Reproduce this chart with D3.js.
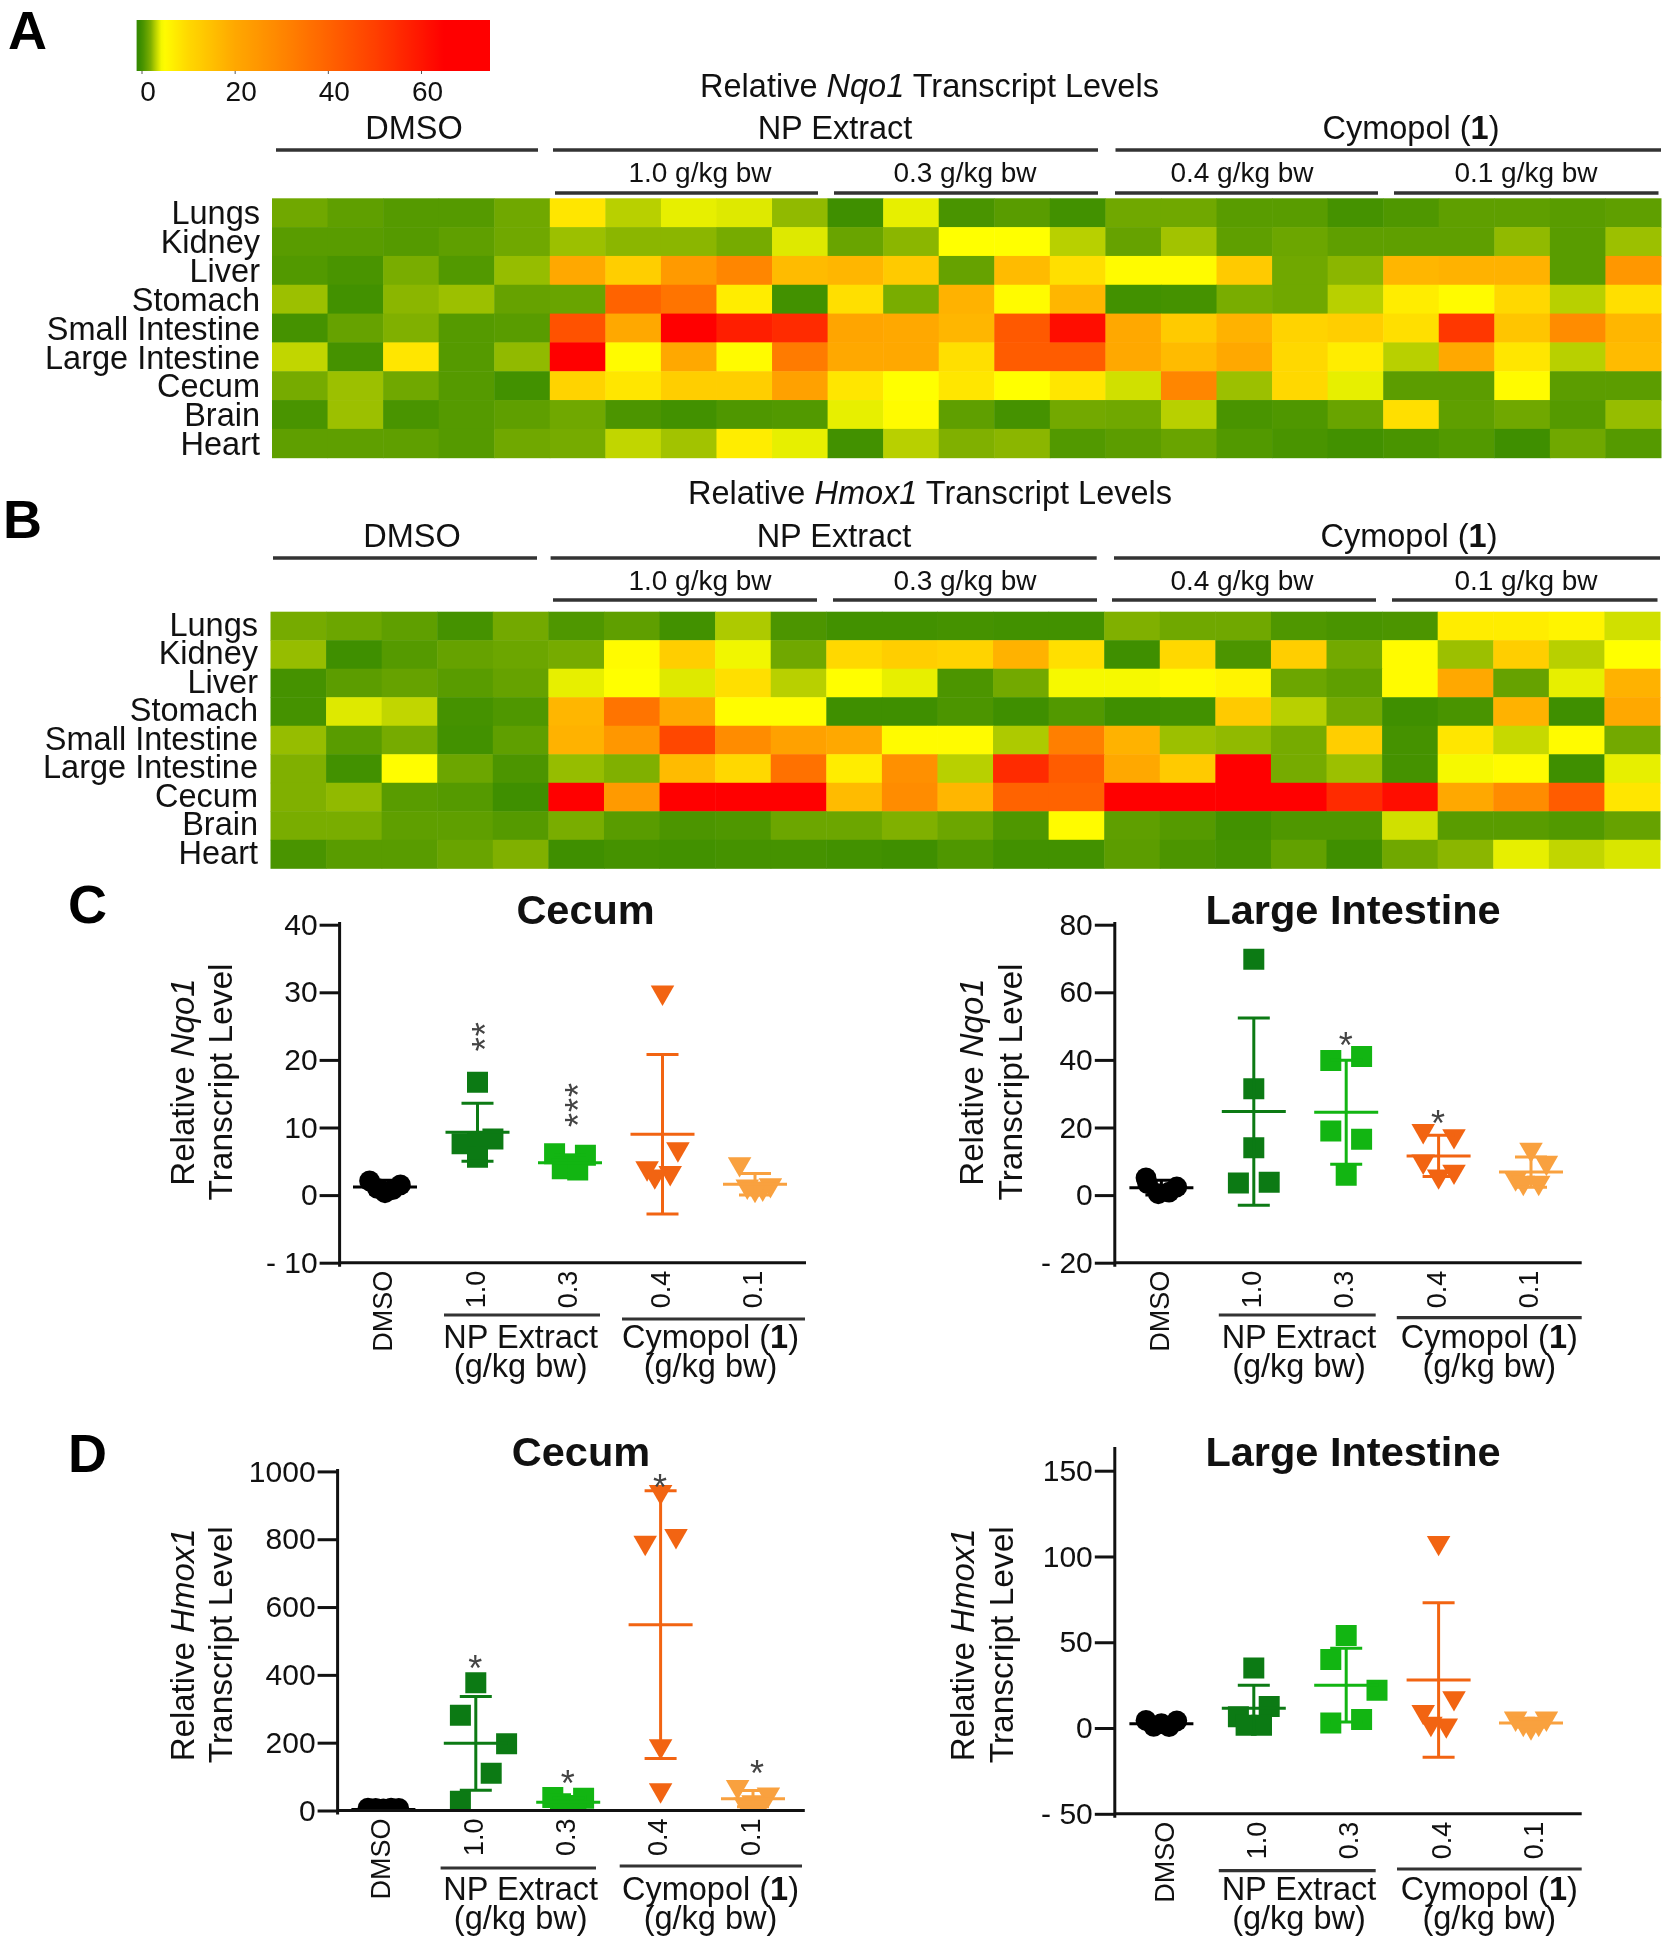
<!DOCTYPE html>
<html>
<head>
<meta charset="utf-8">
<script src="https://cdn.jsdelivr.net/npm/d3@7"></script>
<style>
  html, body { margin: 0; padding: 0; background: #fff; }
  text { font-family: "Liberation Sans", Arial, sans-serif; fill: #111; }
  svg { filter: blur(0.5px); }
</style>
</head>
<body>
<div id="chart"></div>
<script>
// heatmap data, one row per organ
const organs = ["Lungs", "Kidney", "Liver", "Stomach", "Small Intestine", "Large Intestine", "Cecum", "Brain", "Heart"]
const doseLabels = ["1.0 g/kg bw", "0.3 g/kg bw", "0.4 g/kg bw", "0.1 g/kg bw"]
const heatNqo1 = [
  [1.5,1,.7,.7,1.5, 8,3,4,3.8,2.3, 0,4,.3,.8,.1, 1.5,1.5,.8,.8,.2, .5,1,1,.8,1],
  [.8,.8,.7,1,1.5, 2.5,2.2,2.2,1.7,3.8, 1.3,2.2,4.5,4.5,3, 1.2,2.6,1,1.4,1, 1,1,2.3,.8,2.5],
  [.6,.3,1.8,.6,2.4, 20,12,24,30,16, 17,13,1.2,16,9, 5,5,13,1.5,2.2, 17,18,18,.8,25],
  [2.5,.1,2.2,2.5,1.2, 1.3,40,35,7,.1, 9,1.8,18,5,17, .1,.2,1.8,1.5,3, 7,5,10,3,9],
  [.2,1.2,2,.7,.8, 45,20,68,58,55, 21,20,17,43,62, 20,13,18,11,12, 9,52,14,28,17],
  [3.2,.2,8,.7,2.3, 70,5,20,5,33, 20,20,9,42,42, 20,16,20,10,7, 3,20,8,3,16],
  [1.7,2.5,1.5,.7,.1, 11,8,12,12,22, 8,4.5,8,4.5,8, 3.5,30,2.5,10,4, .9,.9,5,.9,.9],
  [.3,2.5,.3,.7,1, 1.5,.4,.1,.5,.6, 4,5,1,.2,1.6, 1.5,3,.3,.5,1.3, 9,1,1.5,.7,2.4],
  [1,1,1,.7,1.5, 1.7,3.2,2.6,7,4, .1,3,2,2.2,.6, .9,1.3,.6,.3,.1, .3,.6,0,1.5,.7]
]
const heatHmox1 = [
  [1.7,1.4,1,.2,1.6, .5,1,.1,2.8,.4, .1,.1,.2,.1,.1, 2,1.5,1.5,.5,.3, .4,7,7,6,3.5],
  [2.4,0,.7,1.2,1.4, 1.7,5,12,4.2,1.5, 10,12,11,18,9, 0,10,.4,12,1.6, 5,2.5,12,3,4.5],
  [.2,.9,1.2,.8,1.2, 4,4.5,3.8,9,3, 4.7,4,.4,1.6,4.3, 4.3,5,6,1.4,1, 5,20,1.2,4,18],
  [.2,3.8,3.2,.2,.5, 17,35,20,4.8,4.8, 0,0,.4,0,.6, 0,.1,13,3,1.6, 0,.3,18,0,20],
  [2.4,.8,1.7,.1,1, 18,25,48,28,22, 20,5,5,2.8,32, 18,2.5,2.3,1.7,12, .2,8,3.3,5,1.6],
  [2,.1,4.8,1.4,.4, 2.4,2,16,10,36, 7,27,3,55,42, 20,13,68,1.7,2.5, .2,4.3,5,0,4],
  [2,2.3,.8,.7,0, 68,24,68,68,68, 16,28,17,40,40, 65,65,66,65,55, 62,20,28,42,8],
  [1.8,1.8,1,1,.7, 1.8,.8,.4,.5,1.4, 1.4,2,1.4,.5,5, 1,.7,.1,.5,.5, 3.5,.8,.8,.6,1.2],
  [.3,.8,.8,1.3,2, 0,.2,.1,.2,.2, .1,0,.5,.1,.1, .9,.4,.2,1.1,0, 1.5,2.2,4,3.2,3.7]
]
const heatStops = [-1, 0, 1, 2, 3, 4.5, 10, 20, 38, 50, 65]
const heatColors = ["#338700", "#3f8f00", "#5f9f00", "#80b000", "#b8d000", "#ffff00", "#ffd800", "#ffa800", "#ff6a00", "#ff4000", "#ff0000"]
const legendTicks = [0, 20, 40, 60]

// scatter data: values per group, swarm slot of each point, mean and sd bars
const groupLabels = ["DMSO", "1.0", "0.3", "0.4", "0.1"]
const groupColors = ["#000000", "#0c7a14", "#12b512", "#f26412", "#f9a13f"]

const nqo1CecumValues = [[2.1,1.5,1,.8,.35], [16.7,8.3,7.6,7.9,5.6], [6.1,5.9,4.6,3.9,3.7], [30,6.8,4,3.3,2.8], [4.6,1.5,1.3,1,.8]]
const nqo1CecumSlots = [[-1,1,-.5,.5,0], [0,1,-1,0,0], [-1,1,0,-.5,.5], [0,1,-1,.5,-.5], [-1,1,-.5,.5,0]]
const nqo1CecumMeans = [1.2, 9.3, 4.8, 9, 1.6]
const nqo1CecumSds = [1, 4.3, 1.1, 11.8, 1.6]
const nqo1CecumStars = [null, [23.5,"**"], [13.4,"***"], null, null]

const nqo1LargeValues = [[5.1,3.4,2.4,.9,.4], [69.8,31.5,14,3.8,3.6], [41,39.8,19,16.5,5.9], [19,17.5,10,7,5.6], [13.5,9.6,5,3.7,3.7]]
const nqo1LargeSlots = [[-1,-.9,1,.5,-.2], [0,0,0,1,-1], [1,-1,-1,1,0], [-1,1,-1,1,0], [0,1,-1,-.5,.5]]
const nqo1LargeMeans = [2.2, 24.7, 24.5, 11.6, 6.8]
const nqo1LargeSds = [2.2, 27.7, 15.4, 6.1, 4.5]
const nqo1LargeStars = [null, null, [46.7,"*"], [23.7,"*"], null]

const hmox1CecumValues = [[7,6,5,6,7], [377,281,197,110,27], [38,36,20,15,10], [940,810,790,190,60], [70,48,25,18,15]]
const hmox1CecumSlots = [[-1,1,0,-.5,.5], [0,-1,2,1,-1], [-1,1,-.5,.5,0], [0,1,-1,0,0], [-1,1,0,-.5,.5]]
const hmox1CecumMeans = [3, 198, 24, 548, 35]
const hmox1CecumSds = [1, 138, 12, 395, 24]
const hmox1CecumStars = [null, [441,"*"], [102,"*"], [975,"*"], [132,"*",.3]]

const hmox1LargeValues = [[4.4,4.2,2.6,1,.8], [35,12.5,6.5,1.6,1.6], [54,40,22,5,3], [108,17.5,9.5,2.6,1.6], [5.6,5.6,2.6,2.6,.5]]
const hmox1LargeSlots = [[-1,1,0,-.5,.5], [0,1,-1,-.5,.5], [0,-1,2,1,-1], [0,1,-1,-.5,.5], [-1,1,-.5,.5,0]]
const hmox1LargeMeans = [2.5, 11.5, 25, 28, 3]
const hmox1LargeSds = [2, 13.5, 21.5, 45, 2.4]
const hmox1LargeStars = [null, null, null, null, null]

const nqo1CecumTicks = [-10, 0, 10, 20, 30, 40]
const nqo1LargeTicks = [-20, 0, 20, 40, 60, 80]
const hmox1CecumTicks = [0, 200, 400, 600, 800, 1000]
const hmox1LargeTicks = [-50, 0, 50, 100, 150]

const svg = d3.select("#chart").append("svg").attr("width", 1669).attr("height", 1950).style("display", "block")
const heatColor = d3.scaleLinear().domain(heatStops).range(heatColors).clamp(true)

function label(g, x, y, size, anchor, parts, rotate) {
  const t = g.append("text").attr("font-size", size).attr("text-anchor", anchor)
  if (rotate) t.attr("transform", `translate(${x},${y}) rotate(-90)`)
  else t.attr("x", x).attr("y", y)
  parts.forEach(p => {
    const s = t.append("tspan").text(p.t)
    if (p.i) s.attr("font-style", "italic")
    if (p.b) s.attr("font-weight", "bold")
  })
  return t
}

function rule(g, x1, x2, y, w, color) {
  g.append("line").attr("x1", x1).attr("x2", x2).attr("y1", y).attr("y2", y)
    .attr("stroke", color || "#333").attr("stroke-width", w || 3.5)
}

// colour key
function drawLegend() {
  const x = d3.scaleLinear().domain([0, 60]).range([141.5, 421])
  const defs = svg.append("defs")
  const grad = defs.append("linearGradient").attr("id", "heatKey")
  const lo = x.invert(136.6), hi = x.invert(490)
  d3.range(0, 1.001, 0.01).forEach(f => {
    grad.append("stop").attr("offset", f).attr("stop-color", heatColor(lo + (hi - lo) * f))
  })
  svg.append("rect").attr("x", 136.6).attr("y", 20).attr("width", 353.4).attr("height", 51).attr("fill", "url(#heatKey)")
  const ax = svg.append("g").attr("transform", "translate(0,71)")
    .call(d3.axisBottom(x).tickValues(legendTicks).tickSize(3).tickPadding(7).tickFormat(d3.format("d")))
  ax.select(".domain").remove()
  ax.selectAll("line").attr("stroke", "#555")
  ax.selectAll("text").attr("font-size", 28).attr("dx", 6)
}

function drawHeat(cfg) {
  const g = svg.append("g")
  const x = d3.scaleBand().domain(d3.range(25)).range([cfg.x0, cfg.x1])
  const y = d3.scaleBand().domain(organs).range([cfg.y0, cfg.y1])
  cfg.values.forEach((row, r) => {
    g.selectAll(null).data(row).enter().append("rect")
      .attr("x", (d, i) => x(i)).attr("y", y(organs[r]))
      .attr("width", x.bandwidth() + .5).attr("height", y.bandwidth() + .5)
      .attr("fill", d => heatColor(d))
  })
  const ay = g.append("g").attr("transform", `translate(${cfg.labelX},${cfg.labelDy})`)
    .call(d3.axisLeft(y).tickSize(0).tickPadding(0))
  ay.select(".domain").remove()
  ay.selectAll("text").attr("font-size", 32.5).attr("dy", ".36em")

  label(g, cfg.titleX, cfg.titleY, 32.5, "middle", [{t: "Relative "}, {t: cfg.gene, i: true}, {t: " Transcript Levels"}])
  label(g, cfg.dmsoX, cfg.headY, 32.5, "middle", [{t: "DMSO"}])
  label(g, cfg.npX, cfg.headY, 32.5, "middle", [{t: "NP Extract"}])
  label(g, cfg.cymX, cfg.headY, 32.5, "middle", [{t: "Cymopol ("}, {t: "1", b: true}, {t: ")"}])
  cfg.headRules.forEach(r => rule(g, r[0], r[1], cfg.headRuleY))
  doseLabels.forEach((d, i) => {
    label(g, cfg.doseX[i], cfg.doseY, 28, "middle", [{t: d}])
    rule(g, cfg.doseRules[i][0], cfg.doseRules[i][1], cfg.doseRuleY)
  })
}

function drawScatter(cfg) {
  const g = svg.append("g")
  const y = d3.scaleLinear().domain(cfg.yDomain).range(cfg.yRange)
  const x = d3.scaleLinear().domain([0, 4]).range(cfg.xRange)
  const clipId = "clip" + cfg.id
  g.append("clipPath").attr("id", clipId).append("rect")
    .attr("x", cfg.axisX).attr("y", 0).attr("width", 600).attr("height", cfg.axisY)

  const marks = g.append("g").attr("clip-path", `url(#${clipId})`)
  const shapes = [
    d3.symbol().type(d3.symbolCircle).size(340),
    d3.symbol().type(d3.symbolSquare).size(441),
    d3.symbol().type(d3.symbolSquare).size(441),
    d3.symbol().type(d3.symbolTriangle).size(240),
    d3.symbol().type(d3.symbolTriangle).size(240)
  ]
  cfg.values.forEach((vals, i) => {
    const flip = i >= 3 ? " rotate(180)" : ""
    marks.selectAll(null).data(vals).enter().append("path")
      .attr("d", shapes[i]())
      .attr("fill", groupColors[i])
      .attr("transform", (d, j) => `translate(${x(i + cfg.slots[i][j] / 6)},${y(d)})${flip}`)

    const cx = x(i), m = cfg.means[i], s = cfg.sds[i], c = groupColors[i]
    const low = Math.max(y.domain()[0], m - s)
    marks.append("line").attr("x1", cx).attr("x2", cx).attr("y1", y(m + s)).attr("y2", y(low)).attr("stroke", c).attr("stroke-width", 3)
    rule(marks, cx - 16, cx + 16, y(m + s), 3, c)
    rule(marks, cx - 16, cx + 16, y(low), 3, c)
    rule(marks, cx - 32, cx + 32, y(m), 3, c)

    const star = cfg.stars[i]
    if (star) {
      const sx = x(i + (star[2] || 0) / 6)
      g.append("text").text(star[1]).attr("font-size", 36).attr("text-anchor", "middle")
        .style("fill", "#444").attr("letter-spacing", 1).attr("dy", ".57em")
        .attr("transform", star[1].length > 1 ? `translate(${sx},${y(star[0])}) rotate(-90)` : `translate(${sx},${y(star[0])})`)
    }
  })

  const ay = g.append("g").attr("transform", `translate(${cfg.axisX},0)`)
    .call(d3.axisLeft(y).tickValues(cfg.ticks).tickSize(20).tickPadding(2).tickFormat(d => d < 0 ? "- " + (-d) : d))
  ay.select(".domain").remove()
  ay.selectAll("line").attr("stroke", "#111").attr("stroke-width", 3)
  ay.selectAll("text").attr("font-size", 30)
  g.append("line").attr("x1", cfg.axisX).attr("x2", cfg.axisX).attr("y1", cfg.axisTop).attr("y2", cfg.axisY + 4)
    .attr("stroke", "#111").attr("stroke-width", 3)

  const ax = g.append("g").attr("transform", `translate(${cfg.labelShift},${cfg.axisY})`)
    .call(d3.axisBottom(x).tickValues(d3.range(5)).tickSize(0).tickFormat(i => groupLabels[i]))
  ax.select(".domain").remove()
  ax.selectAll("text").attr("font-size", 27).attr("text-anchor", "end")
    .attr("transform", "rotate(-90)").attr("x", -8).attr("y", 0).attr("dy", ".36em")
  rule(g, cfg.axisX, cfg.axisEnd, cfg.axisY, 3, "#111")

  label(g, cfg.titleX, cfg.titleY, 41.5, "middle", [{t: cfg.title}]).attr("font-weight", "bold")
  label(g, cfg.yTitleX[0], cfg.yTitleY, 33, "middle", [{t: "Relative "}, {t: cfg.gene, i: true}], true)
  label(g, cfg.yTitleX[1], cfg.yTitleY, 33.5, "middle", [{t: "Transcript Level"}], true)

  rule(g, cfg.npRule[0], cfg.npRule[1], cfg.npRule[2], 3.2)
  rule(g, cfg.cymRule[0], cfg.cymRule[1], cfg.cymRule[2], 3.2)
  label(g, cfg.npX, cfg.subY[0], 32.5, "middle", [{t: "NP Extract"}])
  label(g, cfg.npX, cfg.subY[1], 32.5, "middle", [{t: "(g/kg bw)"}])
  label(g, cfg.cymX, cfg.subY[0], 32.5, "middle", [{t: "Cymopol ("}, {t: "1", b: true}, {t: ")"}])
  label(g, cfg.cymX, cfg.subY[1], 32.5, "middle", [{t: "(g/kg bw)"}])
}

drawLegend()

drawHeat({
  values: heatNqo1, gene: "Nqo1", x0: 272, x1: 1661, y0: 198.3, y1: 457.7, labelX: 260, labelDy: 0,
  titleX: 929.5, titleY: 97, dmsoX: 414, npX: 835, cymX: 1411, headY: 139,
  headRuleY: 150, headRules: [[276, 538], [553, 1098], [1115.5, 1661]],
  doseX: [700, 965, 1242, 1526], doseY: 182, doseRuleY: 193,
  doseRules: [[555, 818], [834, 1098], [1115, 1378], [1394, 1658.5]]
})
drawHeat({
  values: heatHmox1, gene: "Hmox1", x0: 270.5, x1: 1660, y0: 611.7, y1: 868.3, labelX: 258, labelDy: -2,
  titleX: 930, titleY: 504, dmsoX: 412, npX: 834, cymX: 1409, headY: 547,
  headRuleY: 558, headRules: [[273, 537], [550.6, 1096.7], [1114, 1660]],
  doseX: [700, 965, 1242, 1526], doseY: 590, doseRuleY: 600,
  doseRules: [[553, 817], [833, 1097], [1112, 1376], [1392, 1657.5]]
})

drawScatter({
  id: "cn", values: nqo1CecumValues, slots: nqo1CecumSlots, means: nqo1CecumMeans, sds: nqo1CecumSds, stars: nqo1CecumStars,
  ticks: nqo1CecumTicks, gene: "Nqo1", title: "Cecum",
  yDomain: [-10, 40], yRange: [1262.7, 924.7], xRange: [385, 755],
  axisX: 339.6, axisY: 1262.7, axisTop: 922, axisEnd: 806, labelShift: -3,
  titleX: 585.6, titleY: 924, yTitleX: [194, 231.6], yTitleY: 1082,
  npRule: [444, 600, 1315], cymRule: [622, 805, 1319], npX: 520.7, cymX: 710.5, subY: [1348, 1377]
})
drawScatter({
  id: "ln", values: nqo1LargeValues, slots: nqo1LargeSlots, means: nqo1LargeMeans, sds: nqo1LargeSds, stars: nqo1LargeStars,
  ticks: nqo1LargeTicks, gene: "Nqo1", title: "Large Intestine",
  yDomain: [-20, 80], yRange: [1262.7, 924.7], xRange: [1161.4, 1531],
  axisX: 1114.8, axisY: 1262.7, axisTop: 922, axisEnd: 1581.7, labelShift: -3,
  titleX: 1353, titleY: 924, yTitleX: [983, 1021.6], yTitleY: 1082,
  npRule: [1218.8, 1375.7, 1315], cymRule: [1396.8, 1581.7, 1317.7], npX: 1299, cymX: 1489.3, subY: [1348, 1377]
})
drawScatter({
  id: "ch", values: hmox1CecumValues, slots: hmox1CecumSlots, means: hmox1CecumMeans, sds: hmox1CecumSds, stars: hmox1CecumStars,
  ticks: hmox1CecumTicks, gene: "Hmox1", title: "Cecum",
  yDomain: [0, 1000], yRange: [1810.5, 1471.4], xRange: [383.4, 753],
  axisX: 337.6, axisY: 1810.5, axisTop: 1469, axisEnd: 804.8, labelShift: -3.5,
  titleX: 581, titleY: 1465.6, yTitleX: [194, 231.6], yTitleY: 1644.8,
  npRule: [440.6, 596, 1868], cymRule: [619.7, 802, 1866], npX: 520.7, cymX: 710.5, subY: [1900, 1928.8]
})
drawScatter({
  id: "lh", values: hmox1LargeValues, slots: hmox1LargeSlots, means: hmox1LargeMeans, sds: hmox1LargeSds, stars: hmox1LargeStars,
  ticks: hmox1LargeTicks, gene: "Hmox1", title: "Large Intestine",
  yDomain: [-50, 150], yRange: [1813.8, 1470.7], xRange: [1161.4, 1531],
  axisX: 1114.8, axisY: 1813.8, axisTop: 1447, axisEnd: 1581.7, labelShift: 2,
  titleX: 1353, titleY: 1465.6, yTitleX: [973.6, 1012.8], yTitleY: 1644.8,
  npRule: [1218.8, 1375.7, 1870.6], cymRule: [1397, 1581.7, 1869], npX: 1299, cymX: 1489.3, subY: [1900, 1928.8]
})

// panel letters
const panelLetters = [["A", 8, 49], ["B", 3, 538], ["C", 68, 923], ["D", 68, 1472]]
panelLetters.forEach(p => {
  svg.append("text").text(p[0]).attr("x", p[1]).attr("y", p[2]).attr("font-size", 54).attr("font-weight", "bold").style("fill", "#000")
})
</script>
</body>
</html>
